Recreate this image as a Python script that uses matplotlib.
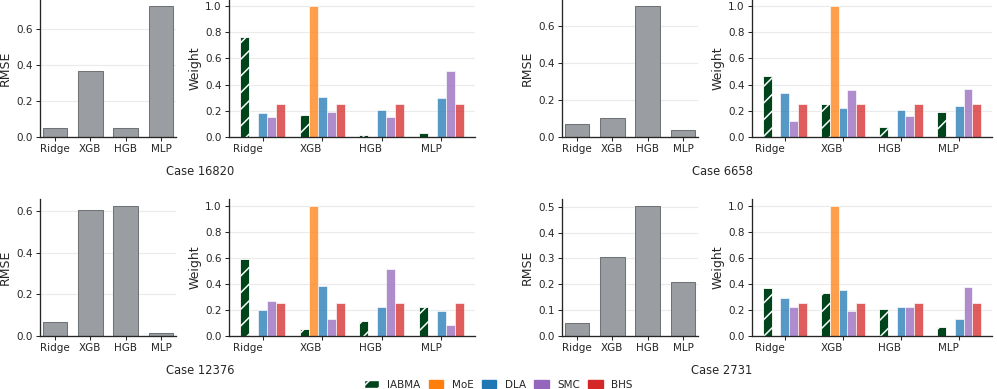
import numpy as np
import matplotlib
matplotlib.use("Agg")
import matplotlib.pyplot as plt
from matplotlib.patches import Patch

models = ["Ridge", "XGB", "HGB", "MLP"]
methods = ["IABMA", "MoE", "DLA", "SMC", "BHS"]
method_colors = ["#00441b", "#ff7f0e", "#1f77b4", "#9467bd", "#d62728"]

# RMSE of each base model
rmse_16820 = [0.047, 0.366, 0.050, 0.727]
rmse_6658 = [0.067, 0.099, 0.705, 0.034]
rmse_12376 = [0.067, 0.603, 0.626, 0.013]
rmse_2731 = [0.049, 0.305, 0.504, 0.207]

# weights, one row per method (IABMA, MoE, DLA, SMC, BHS), one column per model
weights_16820 = [[0.762, 0.167, 0.015, 0.030],
                 [0.0, 1.0, 0.0, 0.0],
                 [0.185, 0.305, 0.205, 0.300],
                 [0.151, 0.190, 0.151, 0.505],
                 [0.25, 0.25, 0.25, 0.25]]
weights_6658 = [[0.462, 0.249, 0.074, 0.190],
                [0.0, 1.0, 0.0, 0.0],
                [0.338, 0.223, 0.203, 0.238],
                [0.118, 0.359, 0.162, 0.364],
                [0.25, 0.25, 0.25, 0.25]]
weights_12376 = [[0.590, 0.054, 0.118, 0.220],
                 [0.0, 1.0, 0.0, 0.0],
                 [0.200, 0.385, 0.223, 0.192],
                 [0.269, 0.133, 0.513, 0.085],
                 [0.25, 0.25, 0.25, 0.25]]
weights_2731 = [[0.367, 0.328, 0.208, 0.072],
                [0.0, 1.0, 0.0, 0.0],
                [0.295, 0.354, 0.220, 0.133],
                [0.220, 0.190, 0.220, 0.372],
                [0.25, 0.25, 0.25, 0.25]]

cases = ["16820", "6658", "12376", "2731"]
rmse_all = [rmse_16820, rmse_6658, rmse_12376, rmse_2731]
weights_all = [weights_16820, weights_6658, weights_12376, weights_2731]

plt.rcParams["font.family"] = "DejaVu Sans"
plt.rcParams["hatch.linewidth"] = 1.1
plt.rcParams["axes.edgecolor"] = "#262626"
plt.rcParams["xtick.color"] = "#262626"
plt.rcParams["ytick.color"] = "#262626"
plt.rcParams["text.color"] = "#262626"
plt.rcParams["axes.labelcolor"] = "#262626"

DPI = 100
fig = plt.figure(figsize=(9.97, 3.89), dpi=DPI)

H = 389.0
W = 997.0
# (rmse left, weight left, weight width, bottom px, case label x, label baseline px)
slots = [(40, 229, 246, 136.7, 200, 175),
         (562, 752, 240, 136.7, 722, 175),
         (40, 229, 246, 336, 200, 374),
         (562, 752, 240, 336, 722, 374)]


def style_axis(ax):
    for s in ["top", "right"]:
        ax.spines[s].set_visible(False)
    for s in ["left", "bottom"]:
        ax.spines[s].set_linewidth(0.95)
    ax.set_axisbelow(True)
    ax.yaxis.grid(True, color="#ebebeb", linewidth=0.8)
    ax.tick_params(labelsize=7.5, length=2.6, width=0.75, pad=2.6)


for case, rmse, weights, slot in zip(cases, rmse_all, weights_all, slots):
    rx, wx, ww, base, cx, cy = slot
    top = base - 136.9
    bottom_f = (H - base) / H
    height_f = (base - top) / H

    ax1 = fig.add_axes([rx / W, bottom_f, 136 / W, height_f])
    x = np.arange(len(models))
    ax1.bar(x, rmse, width=0.7, color="#9a9da1", edgecolor="#707376", linewidth=0.75)
    ax1.set_xticks(x)
    ax1.set_xticklabels(models)
    ax1.margins(x=0.02)
    ax1.set_ylabel("RMSE", fontsize=9, labelpad=3)
    style_axis(ax1)

    ax2 = fig.add_axes([wx / W, bottom_f, ww / W, height_f])
    w = 0.15
    for k, (name, col) in enumerate(zip(methods, method_colors)):
        if name == "IABMA":
            ax2.bar(x + (k - 2) * w, weights[k], width=w, color=col,
                    edgecolor="white", linewidth=0.6, hatch="//")
        else:
            ax2.bar(x + (k - 2) * w, weights[k], width=w, color=col, alpha=0.75,
                    edgecolor="white", linewidth=0.6)
    ax2.set_xticks(x)
    ax2.set_xticklabels(models, ha="right")
    ax2.set_ylabel("Weight", fontsize=9, labelpad=3)
    style_axis(ax2)

    fig.text(cx / W, (H - cy) / H, "Case " + case, ha="center", va="baseline", fontsize=8.3)

handles = []
for name, col in zip(methods, method_colors):
    if name == "IABMA":
        handles.append(Patch(facecolor=col, edgecolor="white", hatch="//", label=name))
    else:
        handles.append(Patch(facecolor=col, edgecolor=col, label=name))
fig.legend(handles=handles, loc="center", bbox_to_anchor=(0.5, (H - 384.5) / H),
           ncol=5, frameon=False, fontsize=7.5, handlelength=1.4,
           handletextpad=0.8, columnspacing=0.8)

fig.savefig("out.png", dpi=DPI)
